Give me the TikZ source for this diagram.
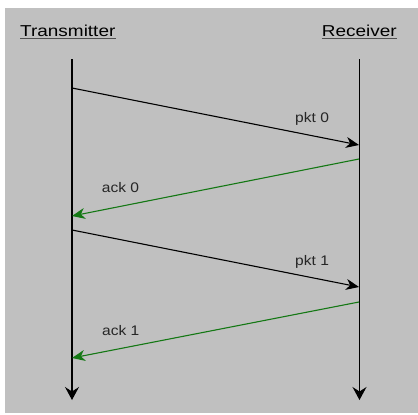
\documentclass[tikz,border=0pt]{standalone}
\usepackage{fontspec}
\setmainfont{Liberation Sans}
\usetikzlibrary{arrows.meta}
\definecolor{bggray}{HTML}{C0C0C0}
\definecolor{ulgray}{HTML}{505050}
\definecolor{ackgreen}{RGB}{20,120,20}
\begin{document}
\begin{tikzpicture}[x=1pt,y=-1pt,
  title/.style={inner sep=0pt,anchor=base west,font=\fontsize{15.8}{18}\selectfont},
  lbl/.style={inner sep=0pt,anchor=base west,font=\fontsize{13.9}{16}\selectfont,text=black!85},
  uline/.style={ulgray,line width=1.5pt},
  life/.style={black,line width=1.1pt,-{Stealth[length=13pt,width=14pt,inset=4.5pt]}},
  pktmsg/.style={black,line width=1.1pt,-{Stealth[length=13pt,width=11pt,inset=4pt]}},
  ackmsg/.style={ackgreen,line width=1.1pt,-{Stealth[length=13pt,width=11pt,inset=4pt]}}]
\useasboundingbox (0,0) rectangle (418,415);
\fill[white] (0,0) rectangle (418,415);
\fill[bggray] (5,8) rectangle (418,413);
% titles
\node[title] (tx) at (20,36) {\scalebox{1.2}[1]{Transmitter}};
\node[title] (rx) at (321.7,36) {\scalebox{1.2}[1]{Receiver}};
\draw[uline] ([yshift=-2.5pt]tx.base west) -- ([yshift=-2.5pt]tx.base east);
\draw[uline] ([yshift=-2.5pt]rx.base west) -- ([yshift=-2.5pt]rx.base east);
% lifelines
\coordinate (ttop) at (72,59);
\coordinate (tbot) at (72,400);
\coordinate (rtop) at (359.5,59);
\coordinate (rbot) at (359.5,400);
\draw[life] (ttop) -- (tbot);
\draw[life] (rtop) -- (rbot);
% message endpoints
\coordinate (p0s) at (72,88);
\coordinate (p0e) at (359,145);
\coordinate (a0s) at (359,159);
\coordinate (a0e) at (72,216);
\coordinate (p1s) at (72,230);
\coordinate (p1e) at (359,287);
\coordinate (a1s) at (359,302);
\coordinate (a1e) at (72,358);
\draw[pktmsg] (p0s) -- (p0e);
\draw[ackmsg] (a0s) -- (a0e);
\draw[pktmsg] (p1s) -- (p1e);
\draw[ackmsg] (a1s) -- (a1e);
% labels
\node[lbl] (l0) at (295,122.7) {\scalebox{1.12}[1]{pkt 0}};
\node[lbl] (l1) at (101.7,192.7) {\scalebox{1.12}[1]{ack 0}};
\node[lbl] (l2) at (295,265) {\scalebox{1.12}[1]{pkt 1}};
\node[lbl] (l3) at (102,335) {\scalebox{1.12}[1]{ack 1}};
\end{tikzpicture}
\end{document}
